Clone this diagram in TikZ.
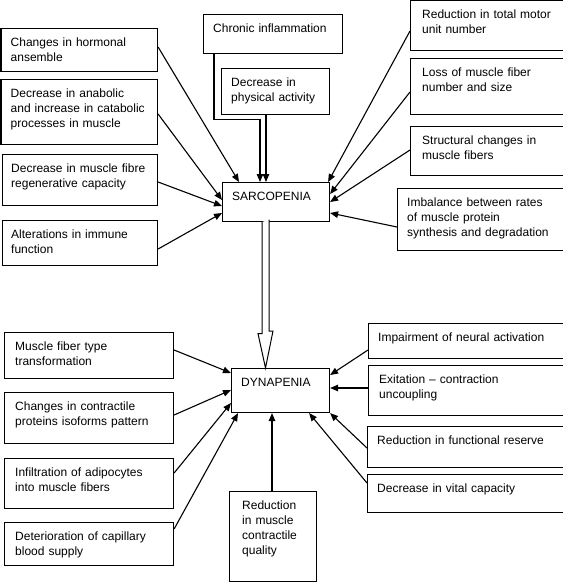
\documentclass[tikz,border=0pt]{standalone}
\usepackage{fontspec}
\setmainfont{Liberation Sans}
\usetikzlibrary{arrows.meta}
\tikzset{
  boxr/.style={draw, line width=1.1pt, anchor=north west, inner sep=0pt},
  boxt/.style={anchor=north west, inner sep=0pt, align=left, text width=220pt,
    text height=12pt, font=\fontsize{12}{15}\selectfont},
  arr/.style={line width=1.1pt, -{Triangle[length=8pt,width=6.5pt]}},
  hollow/.style={line width=1pt, fill=white}
}
% name, x, y, w, h, padx, text
\newcommand\bx[7]{%
  \node[boxr, minimum width=#4pt, minimum height=#5pt] (#1) at (#2,#3) {};
  \node[boxt] (#1t) at ([shift={(#6,6)}]#1.north west) {#7};}
\begin{document}
\begin{tikzpicture}[x=1pt,y=-1pt]
\useasboundingbox (0,0) rectangle (563,582);
% upper left
\bx{horm}{0.5}{28}{156.5}{43}{10}{Changes in hormonal\\ansemble}
\bx{anab}{0.5}{79}{156.5}{65}{10}{Decrease in anabolic\\and increase in catabolic\\processes in muscle}
\bx{regen}{2}{154}{155}{51}{9}{Decrease in muscle fibre\\regenerative capacity}
\bx{immune}{2}{220}{155}{45}{9}{Alterations in immune\\function}
\bx{chronic}{203}{14}{139}{39}{10}{Chronic inflammation}
\bx{phys}{221}{68}{108}{46}{10}{Decrease in\\physical activity}
\bx{sarc}{222}{182}{107}{39}{10}{SARCOPENIA}
% upper right
\bx{motor}{410}{0}{152.5}{50}{12}{Reduction in total motor\\unit number}
\bx{loss}{410}{58}{152.5}{56}{12}{Loss of muscle fiber\\number and size}
\bx{struct}{410}{126}{152.5}{49}{12}{Structural changes in\\muscle fibers}
\bx{imbal}{397}{188}{165.5}{62}{10}{Imbalance between rates\\of muscle protein\\synthesis and degradation}
% lower
\bx{dyna}{231}{368}{98}{44}{10}{DYNAPENIA}
\bx{fibtype}{4}{332}{169}{46}{11}{Muscle fiber type\\transformation}
\bx{contr}{4}{392}{169}{51}{11}{Changes in contractile\\proteins isoforms pattern}
\bx{infil}{4}{458}{169}{50}{11}{Infiltration of adipocytes\\into muscle fibers}
\bx{capil}{4}{522}{169}{43}{11}{Deterioration of capillary\\blood supply}
\bx{qual}{229}{491}{87}{90}{13}{Reduction\\in muscle\\contractile\\quality}
\bx{neural}{368}{323}{194.5}{35}{10}{Impairment of neural activation}
\bx{exit}{368}{365}{194.5}{50}{11}{Exitation -- contraction\\uncoupling}
\bx{reserve}{367}{426}{195.5}{41}{10}{Reduction in functional reserve}
\bx{vital}{367}{474}{195.5}{38}{10}{Decrease in vital capacity}
% arrows into SARCOPENIA
\draw[arr] ([shift={(0,19)}]horm.north east) -- ([shift={(17,0)}]sarc.north west);
\draw[arr] ([shift={(0,35)}]anab.north east) -- ([shift={(0,18)}]sarc.north west);
\draw[arr] ([shift={(0,28)}]regen.north east) -- ([shift={(0,24)}]sarc.north west);
\draw[arr] ([shift={(0,29)}]immune.north east) -- ([shift={(0,31)}]sarc.north west);
\draw[arr] ([shift={(11,0)}]chronic.south west) -- ++(0,65) -| ([shift={(38,0)}]sarc.north west);
\coordinate (p6) at ([shift={(45,0)}]phys.south west);
\draw[arr] (p6) -- (p6 |- sarc.north);
\draw[arr] ([shift={(0,31)}]motor.north west) -- ([shift={(-2,0)}]sarc.north east);
\draw[arr] ([shift={(0,34)}]loss.north west) -- ([shift={(0,12)}]sarc.north east);
\draw[arr] ([shift={(0,24)}]struct.north west) -- ([shift={(0,20)}]sarc.north east);
\draw[arr] ([shift={(0,39)}]imbal.north west) -- ([shift={(0,31)}]sarc.north east);
% hollow arrow SARCOPENIA -> DYNAPENIA
\coordinate (hs) at ([shift={(43.5,0)}]sarc.south west);
\coordinate (he) at ([shift={(34.5,0)}]dyna.north west);
\draw[hollow] (hs) ++(-3.5,0) -- ++(0,111.5) -- ++(-4,0) -- (he) -- ++(7.5,-37) -- ++(-4,0) -- ++(0,-111.5);
% arrows into DYNAPENIA
\draw[arr] ([shift={(0,18)}]fibtype.north east) -- ([shift={(0,5)}]dyna.north west);
\draw[arr] ([shift={(0,23)}]contr.north east) -- ([shift={(0,22)}]dyna.north west);
\draw[arr] ([shift={(0,15)}]infil.north east) -- ([shift={(0,35)}]dyna.north west);
\draw[arr] ([shift={(0,7)}]capil.north east) -- ([shift={(7,0)}]dyna.south west);
\coordinate (pq) at ([shift={(43,0)}]qual.north west);
\draw[arr] (pq) -- (pq |- dyna.south);
\draw[arr] ([shift={(0,27)}]neural.north west) -- ([shift={(0,7)}]dyna.north east);
\draw[arr] ([shift={(0,23)}]exit.north west) -- ([shift={(0,20)}]dyna.north east);
\draw[arr] ([shift={(0,22)}]reserve.north west) -- (dyna.south east);
\draw[arr] ([shift={(0,9)}]vital.north west) -- ([shift={(-21,0)}]dyna.south east);
\end{tikzpicture}
\end{document}
